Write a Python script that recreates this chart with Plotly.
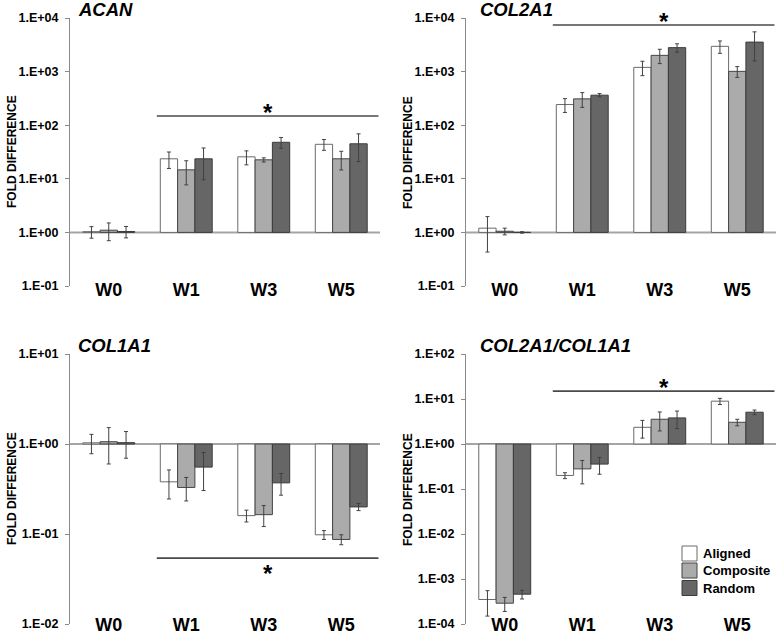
import math
import plotly.graph_objects as go

# ---------------- data ----------------
categories = ["W0", "W1", "W3", "W5"]
series_names = ["Aligned", "Composite", "Random"]

acan_aligned = [1.03, 23.6, 25.7, 44]
acan_aligned_err = [0.25, 8, 7.5, 10]
acan_composite = [1.1, 14.7, 22.6, 23.6]
acan_composite_err = [0.4, 7, 2, 9]
acan_random = [1.04, 23.6, 48, 45]
acan_random_err = [0.25, 14, 11, 24]

col2_aligned = [1.2, 243, 1200, 2960]
col2_aligned_err = [0.77, 70, 360, 770]
col2_composite = [1.05, 310, 2010, 1010]
col2_composite_err = [0.15, 95, 600, 230]
col2_random = [1.0, 363, 2800, 3550]
col2_random_err = [0.03, 25, 500, 1970]

col1_aligned = [1.03, 0.38, 0.16, 0.098]
col1_aligned_err = [0.25, 0.135, 0.024, 0.011]
col1_composite = [1.06, 0.329, 0.164, 0.087]
col1_composite_err = [0.46, 0.096, 0.043, 0.011]
col1_random = [1.035, 0.554, 0.37, 0.2]
col1_random_err = [0.34, 0.25, 0.1, 0.018]

ratio_aligned = [3.5e-4, 0.2, 2.35, 8.95]
ratio_aligned_err = [2e-4, 0.03, 1.0, 1.4]
ratio_composite = [2.9e-4, 0.28, 3.55, 3.04]
ratio_composite_err = [1e-4, 0.15, 1.6, 0.5]
ratio_random = [4.6e-4, 0.358, 3.8, 5.09]
ratio_random_err = [1e-4, 0.145, 1.6, 0.6]

panel_titles = ["ACAN", "COL2A1", "COL1A1", "COL2A1/COL1A1"]
top_tickvals = [0.1, 1, 10, 100, 1000, 10000]
top_ticktext = ["1.E-01", "1.E+00", "1.E+01", "1.E+02", "1.E+03", "1.E+04"]
col1_tickvals = [0.01, 0.1, 1, 10]
col1_ticktext = ["1.E-02", "1.E-01", "1.E+00", "1.E+01"]
ratio_tickvals = [1e-4, 1e-3, 1e-2, 0.1, 1, 10, 100]
ratio_ticktext = ["1.E-04", "1.E-03", "1.E-02", "1.E-01", "1.E+00", "1.E+01", "1.E+02"]

# significance bar level (data units) per panel
sig_levels = [148, 7400, 0.054, 15]

# ---------------- style ----------------
FONT = "Liberation Sans, Arial, sans-serif"
fills = ["#ffffff", "#ababab", "#666666"]
outlines = ["#6a6a6a", "#454545", "#3c3c3c"]
axis_col = "#8a8a8a"
W, H = 777, 636

panels = [
    dict(data=[(acan_aligned, acan_aligned_err), (acan_composite, acan_composite_err), (acan_random, acan_random_err)],
         x=(70, 380), y=(18, 286), rng=(-1, 4), tv=top_tickvals, tt=top_ticktext, star_below=False,
         title_x=76, lab_raise=9),
    dict(data=[(col2_aligned, col2_aligned_err), (col2_composite, col2_composite_err), (col2_random, col2_random_err)],
         x=(466, 776), y=(18, 286), rng=(-1, 4), tv=top_tickvals, tt=top_ticktext, star_below=False,
         title_x=478, lab_raise=9),
    dict(data=[(col1_aligned, col1_aligned_err), (col1_composite, col1_composite_err), (col1_random, col1_random_err)],
         x=(70, 380), y=(354, 624), rng=(-2, 1), tv=col1_tickvals, tt=col1_ticktext, star_below=True,
         title_x=76, lab_raise=12),
    dict(data=[(ratio_aligned, ratio_aligned_err), (ratio_composite, ratio_composite_err), (ratio_random, ratio_random_err)],
         x=(466, 776), y=(354, 624), rng=(-4, 2), tv=ratio_tickvals, tt=ratio_ticktext, star_below=False,
         title_x=478, lab_raise=12),
]

fig = go.Figure()
shapes = []
annotations = []

for i, p in enumerate(panels):
    n = i + 1
    xa = "x" if n == 1 else f"x{n}"
    ya = "y" if n == 1 else f"y{n}"
    for j, (vals, errs) in enumerate(p["data"]):
        fig.add_trace(go.Bar(
            x=categories,
            y=[v - 1 for v in vals],
            base=1,
            name=series_names[j],
            marker=dict(color=fills[j], line=dict(color=outlines[j], width=1)),
            error_y=dict(type="data", array=errs, visible=True, color="#404040", thickness=1, width=2),
            xaxis=xa, yaxis=ya,
            showlegend=False,
        ))
    xd = [p["x"][0] / W, p["x"][1] / W]
    yd = [1 - p["y"][1] / H, 1 - p["y"][0] / H]
    axname = "" if n == 1 else str(n)
    fig.layout["xaxis" + axname] = dict(
        domain=xd, anchor="free", position=1 - (p["y"][1] - p["lab_raise"]) / H,
        type="category", range=[-0.5, 3.5], automargin=False,
        showline=False, showgrid=False, zeroline=False, ticks="",
        tickfont=dict(family=FONT, size=18, color="#000000", weight="bold"),
    )
    fig.layout["yaxis" + axname] = dict(
        domain=yd, anchor=xa, type="log", range=list(p["rng"]), automargin=False,
        showline=True, linecolor=axis_col, linewidth=1, showgrid=False, zeroline=False,
        ticks="outside", ticklen=4, tickcolor=axis_col, tickwidth=1,
        tickvals=p["tv"], ticktext=p["tt"], ticklabelstandoff=4,
        tickfont=dict(family=FONT, size=12.5, color="#000000", weight="bold"),
    )
    # baseline at 1
    shapes.append(dict(type="line", xref=f"{xa} domain", yref=ya, x0=0, x1=1, y0=1, y1=1,
                       line=dict(color="#a5a5a5", width=2), layer="below"))
    # significance line
    shapes.append(dict(type="line", xref=f"{xa} domain", yref=ya, x0=0.28, x1=0.995,
                       y0=sig_levels[i], y1=sig_levels[i], line=dict(color="#4a4a4a", width=1.6)))
    annotations.append(dict(text="*", xref=f"{xa} domain", yref=ya, x=0.64, y=math.log10(sig_levels[i]),
                            showarrow=False, xanchor="center", yanchor="middle",
                            yshift=-15 if p["star_below"] else 4,
                            font=dict(family=FONT, size=24, color="#000000", weight="bold")))
    # panel title
    annotations.append(dict(text=panel_titles[i], xref="paper", yref="paper",
                            x=p["title_x"] / W, y=1 - (p["y"][0] - 21) / H,
                            xanchor="left", yanchor="top", showarrow=False,
                            font=dict(family=FONT, size=18.5, color="#000000", weight="bold", style="italic")))
    # y-axis title
    annotations.append(dict(text="FOLD DIFFERENCE", xref="paper", yref="paper",
                            x=(p["x"][0] - 58) / W, y=1 - ((p["y"][0] + p["y"][1]) / 2) / H,
                            xanchor="center", yanchor="middle", textangle=-90, showarrow=False,
                            font=dict(family=FONT, size=12, color="#000000", weight="bold")))

# legend (drawn in panel 4 area)
legend_rows_px = [553.5, 570.5, 588]
for j, name in enumerate(series_names):
    cy = legend_rows_px[j]
    shapes.append(dict(type="rect", xref="paper", yref="paper",
                       x0=682 / W, x1=697 / W, y0=1 - (cy + 7.5) / H, y1=1 - (cy - 7.5) / H,
                       fillcolor=fills[j], line=dict(color=outlines[j], width=1)))
    annotations.append(dict(text=name, xref="paper", yref="paper", x=701 / W, y=1 - cy / H,
                            xanchor="left", yanchor="middle", showarrow=False,
                            font=dict(family=FONT, size=13, color="#000000", weight="bold")))

fig.update_layout(
    width=W, height=H,
    margin=dict(l=0, r=0, t=0, b=0),
    paper_bgcolor="#ffffff", plot_bgcolor="#ffffff",
    barmode="group", bargap=0.33, bargroupgap=0,
    shapes=shapes, annotations=annotations,
    showlegend=False,
    font=dict(family=FONT),
)

fig.write_html("out.html", config={"displayModeBar": False},
               post_script="document.body.style.margin='0';document.body.style.overflow='hidden';")
